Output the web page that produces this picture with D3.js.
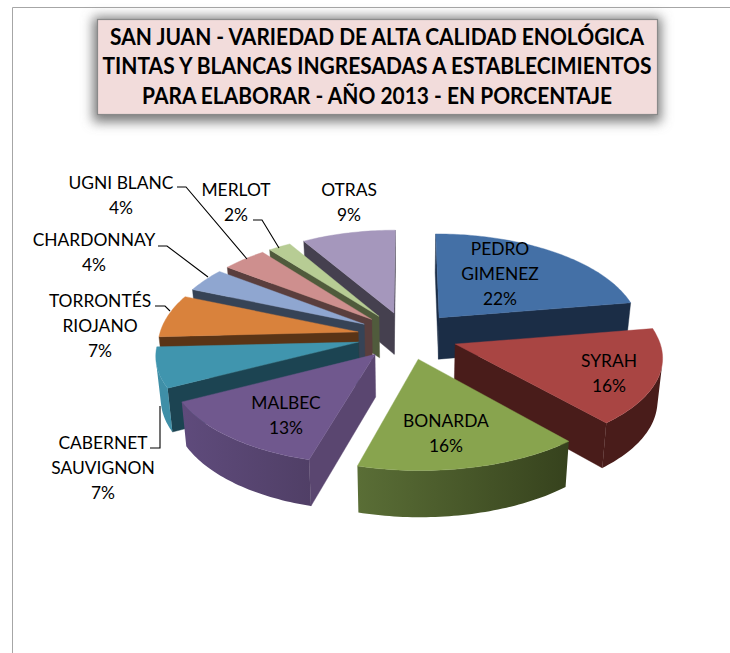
<!DOCTYPE html>
<html><head><meta charset="utf-8">
<script src="https://cdn.jsdelivr.net/npm/d3@7/dist/d3.min.js"></script>
<style>html,body{margin:0;padding:0;background:#fff}svg{display:block}</style>
</head><body><div id="c"></div>
<script>
const varieties=["PEDRO GIMENEZ","SYRAH","BONARDA","MALBEC","CABERNET SAUVIGNON","TORRONTÉS RIOJANO","CHARDONNAY","UGNI BLANC","MERLOT","OTRAS"];
const shares=[22.4,16.4,15.5,13,6.9,7,3.9,4.1,2.1,8.7];
const titleLines=["SAN JUAN - VARIEDAD DE ALTA CALIDAD ENOLÓGICA","TINTAS Y BLANCAS INGRESADAS A ESTABLECIMIENTOS","PARA ELABORAR - AÑO 2013 - EN PORCENTAJE"];
const topColors=["#4470a6","#a94543","#88a44e","#70588e","#4095ae","#d9823c","#8fa6d0","#ce8f8e","#b7cc94","#a597bc"];
const wallColors=["#1b2d46","#491c1a","#3a4620","#5a4670","#1c4452","#5a3416","#364356","#5a3e3d","#505b3c","#45404f"];
const rimLeft=["#1b2d46","#491c1a","#5a6e36","#5f4b7c","#3f8fa7","#5a3416","#364356","#5a3e3d","#505b3c","#45404f"];
const rimRight=["#1b2d46","#491c1a","#36421d","#503f66","#3f8fa7","#5a3416","#364356","#5a3e3d","#505b3c","#45404f"];
const labelLines=[["PEDRO","GIMENEZ"],["SYRAH"],["BONARDA"],["MALBEC"],["CABERNET","SAUVIGNON"],["TORRONTÉS","RIOJANO"],["CHARDONNAY"],["UGNI BLANC"],["MERLOT"],["OTRAS"]];
const labelAt=[[500,249],[609,361],[446,421],[286,403],[103,443],[100,301],[94,240],[121,183],[236,190],[349,190]];
const leaders=[null,null,null,null,[[150,448],[160,448],[160,406]],[[155,306],[165,306],[170,311]],[[158,246],[167,246],[208,277]],[[177,187],[186,187],[247,259]],[[253,220],[262,220],[279,248]],null];

const W=730,H=653;
const svg=d3.select("#c").append("svg").attr("width",W).attr("height",H);
const defs=svg.append("defs");
const blur=defs.append("filter").attr("id","sh").attr("x","-10%").attr("y","-30%").attr("width","120%").attr("height","160%");
blur.append("feGaussianBlur").attr("stdDeviation",6);

// frame
svg.append("path").attr("d","M12.5,653V7.5H730").attr("fill","none").attr("stroke","#a6a6a6").attr("stroke-width",1);

// title
svg.append("rect").attr("x",93).attr("y",17).attr("width",568).attr("height",105).attr("fill","#7a7a7a").attr("filter","url(#sh)");
svg.append("rect").attr("x",97.5).attr("y",19.5).attr("width",560).attr("height",95).attr("fill","#f2dcdb").attr("stroke","#8a8a8a").attr("stroke-width",1.2);
const titleLen=[534,549,470];
svg.append("g").selectAll("text").data(titleLines).join("text")
 .attr("x",377).attr("y",(d,i)=>45+i*29.3).attr("text-anchor","middle")
 .attr("textLength",(d,i)=>titleLen[i]).attr("lengthAdjust","spacingAndGlyphs")
 .attr("font-family","Lato").attr("font-weight",700).attr("font-size",22).attr("fill","#000").text(d=>d);

// projection
const explode=0.25,pers=0.12,depth=42,shrink=0.98;
const xS=d3.scaleLinear().domain([-1,0,1]).range([407-199,407,407+203]);
const yS=d3.scaleLinear().domain([-1,0,1]).range([336-98,336,336+92]);
function proj(theta,r,mid,low){
  const a=r*Math.sin(theta)+explode*Math.sin(mid);
  const b=-r*Math.cos(theta)-explode*Math.cos(mid);
  const s=1/(1-pers*b);
  if(!low) return [xS(a*s),yS(b*s)];
  return [xS(a*s*shrink),yS(b*s*shrink)+depth*s];
}
const line=d3.line().curve(d3.curveLinearClosed);
const area=q=>d3.polygonArea(q);

const arcs=d3.pie().sort(null)(shares).map((d,i)=>({...d,i,mid:(d.startAngle+d.endAngle)/2}));
const order=arcs.slice().sort((p,q)=>(-Math.cos(p.mid))-(-Math.cos(q.mid)));
const g=svg.append("g");
order.forEach(d=>{
  const sl=g.append("g");
  const apexT=proj(0,0,d.mid,false),apexB=proj(0,0,d.mid,true);
  const n=Math.max(4,Math.ceil((d.endAngle-d.startAngle)/0.02));
  const ang=d3.range(n+1).map(k=>d.startAngle+(d.endAngle-d.startAngle)*k/n);
  const tops=ang.map(t=>proj(t,1,d.mid,false)),bots=ang.map(t=>proj(t,1,d.mid,true));
  const wall=(p,q,pb,qb)=>{
    const quad=[p,q,qb,pb];
    if(area(quad)>0) sl.append("path").attr("d",line(quad)).attr("fill",wallColors[d.i]).attr("stroke",wallColors[d.i]).attr("stroke-width",0.4);
  };
  wall(apexT,tops[0],apexB,bots[0]);
  wall(tops[n],apexT,bots[n],apexB);
  // outer rim: only the segments facing the viewer, merged into one shape
  const vis=d3.range(n).filter(k=>area([tops[k],tops[k+1],bots[k+1],bots[k]])>0);
  if(vis.length){
    const idx=[...vis,vis[vis.length-1]+1];
    const poly=[...idx.map(k=>tops[k]),...idx.slice().reverse().map(k=>bots[k])];
    const xs=d3.extent(poly,p=>p[0]);
    const gr=defs.append("linearGradient").attr("id","rim"+d.i).attr("gradientUnits","userSpaceOnUse")
      .attr("x1",xs[0]).attr("x2",xs[1]).attr("y1",0).attr("y2",0);
    gr.append("stop").attr("offset",0).attr("stop-color",rimLeft[d.i]);
    gr.append("stop").attr("offset",1).attr("stop-color",rimRight[d.i]);
    sl.append("path").attr("d",line(poly)).attr("fill","url(#rim"+d.i+")");
  }
  sl.append("path").attr("d",line([apexT,...tops])).attr("fill",topColors[d.i]).attr("stroke",topColors[d.i]).attr("stroke-width",0.4);
});

// leaders
const lp=d3.line();
svg.append("g").selectAll("path").data(leaders.filter(Boolean)).join("path")
 .attr("d",d=>lp(d)).attr("fill","none").attr("stroke","#000").attr("stroke-width",1.1);

// labels
const lab=svg.append("g").attr("font-family","Lato").attr("font-size",17.4).attr("fill","#000").attr("text-anchor","middle");
arcs.forEach(d=>{
  const rows=[...labelLines[d.i],Math.round(shares[d.i])+"%"];
  rows.forEach((t,j)=>lab.append("text").attr("x",labelAt[d.i][0]).attr("y",labelAt[d.i][1]+j*24.8+6).text(t));
});
</script></body></html>
